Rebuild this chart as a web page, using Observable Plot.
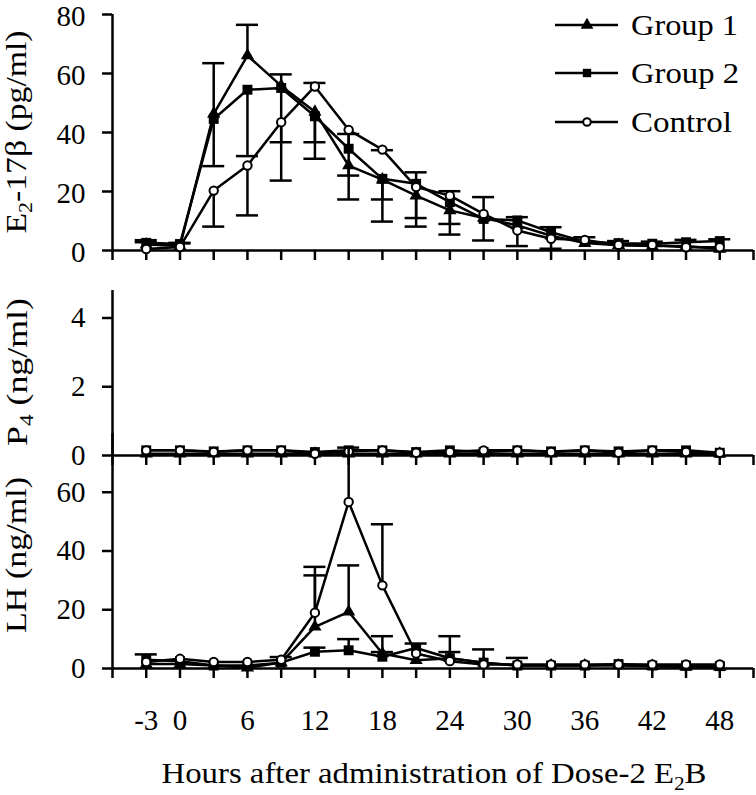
<!DOCTYPE html>
<html><head><meta charset="utf-8">
<script src="https://cdn.jsdelivr.net/npm/d3@7"></script>
<script src="https://cdn.jsdelivr.net/npm/@observablehq/plot@0.6"></script>
<style>
html,body{margin:0;padding:0;background:#fff;}
#chart{position:relative;width:756px;height:795px;font-family:"Liberation Serif","Times New Roman",serif;}
#chart svg{position:absolute;left:0;}
</style></head><body><div id="chart"></div>
<script>
// ---------- data ----------
const hours = [-3, 0, 3, 6, 9, 12, 15, 18, 21, 24, 27, 30, 33, 36, 39, 42, 45, 48];
const seriesNames = ["Group 1", "Group 2", "Control"];

// E2-17β (pg/ml)
const e2Group1 = [2.0, 1.5, 46.3, 66.1, 55.8, 47.0, 28.8, 24.0, 18.6, 13.6, 11.0, 8.5, 5.0, 2.5, 1.8, 1.5, 1.5, 0.5];
const e2Group2 = [2.6, 2.2, 44.6, 54.5, 55.1, 45.5, 34.5, 24.3, 22.6, 16.4, 10.7, 10.2, 6.2, 3.0, 2.5, 2.3, 2.8, 3.2];
const e2Control = [0.5, 1.2, 20.3, 28.8, 43.5, 55.6, 40.9, 34.2, 21.5, 18.6, 12.4, 6.8, 4.0, 3.6, 1.9, 1.9, 1.1, 1.1];
// error bar end points (null = not visible)
const e2Group1Err = [2.8, 2.4, 63.5, 76.5, 59.7, 36.7, 25.4, 9.8, 11.0, 9.0, 3.4, 1.5, 0.6, null, null, null, null, null];
const e2Group2Err = [3.5, 2.6, 28.6, 32.0, 36.7, 31.1, 39.5, 17.3, 26.5, 5.4, null, 11.3, 7.9, null, 3.2, 3.0, 3.6, 3.8];
const e2ControlErr = [null, null, 8.1, 11.9, 23.7, 56.8, 17.3, 34.0, 8.1, 20.1, 18.1, null, null, 4.5, null, null, null, null];

// P4 (ng/ml)
const p4Group1 = [0.05, 0.05, 0.05, 0.05, 0.05, 0.05, 0.05, 0.05, 0.05, 0.05, 0.05, 0.05, 0.05, 0.05, 0.05, 0.05, 0.05, 0.05];
const p4Group2 = [0.15, 0.15, 0.12, 0.15, 0.15, 0.10, 0.15, 0.15, 0.10, 0.15, 0.10, 0.15, 0.12, 0.15, 0.12, 0.15, 0.15, 0.08];
const p4Control = [0.15, 0.15, 0.10, 0.15, 0.15, 0.05, 0.12, 0.15, 0.08, 0.10, 0.15, 0.15, 0.10, 0.15, 0.08, 0.15, 0.10, 0.08];

// LH (ng/ml)
const lhGroup1 = [1.5, 1.5, 1.0, 0.3, 2.0, 14.2, 19.3, 5.1, 2.8, 3.5, 2.0, 1.0, 1.0, 1.0, 1.0, 0.8, 0.5, 0.5];
const lhGroup2 = [3.0, 2.5, 1.0, 1.0, 2.0, 5.7, 6.2, 4.0, 7.0, 3.5, 2.0, 1.0, 1.0, 1.0, 1.5, 1.0, 1.0, 0.8];
const lhControl = [2.2, 3.3, 2.2, 2.2, 3.0, 19.0, 56.7, 28.3, 5.1, 2.5, 1.4, 1.4, 1.4, 1.4, 1.4, 1.4, 1.4, 1.4];
const lhGroup1Err = [null, null, null, null, null, 31.7, 35.1, 11.0, null, 11.0, 6.5, 3.6, null, null, null, null, null, null];
const lhGroup2Err = [4.8, null, null, null, 3.9, 7.1, 10.0, 5.6, 8.5, 5.6, null, null, null, null, null, null, null, null];
const lhControlErr = [null, null, null, null, null, 34.6, 75.2, 49.1, null, null, null, null, null, null, null, null, null, null];

// axes
const xDomain = [-6, 51];
const xTicks = [-6, -3, 0, 3, 6, 9, 12, 15, 18, 21, 24, 27, 30, 33, 36, 39, 42, 45, 48, 51];
const xTickLabels = [-3, 0, 6, 12, 18, 24, 30, 36, 42, 48];
const e2Domain = [0, 80], e2Ticks = [0, 20, 40, 60, 80];
const p4Domain = [0, 4.8], p4Ticks = [0, 2, 4];
const lhDomain = [0, 80], lhTicks = [0, 20, 40, 60];

// ---------- build ----------
function table(vals, errs) {
  const out = [];
  vals.forEach((v, si) => v.forEach((y, i) => out.push({
    series: seriesNames[si], hour: hours[i], value: y, err: errs ? errs[si][i] : null
  })));
  return out;
}
const e2Data = table([e2Group1, e2Group2, e2Control], [e2Group1Err, e2Group2Err, e2ControlErr]);
const p4Data = table([p4Group1, p4Group2, p4Control], null);
const lhData = table([lhGroup1, lhGroup2, lhControl], [lhGroup1Err, lhGroup2Err, lhControlErr]);

const SW = 2.5, capHalf = 0.98;
const labelSet = new Set(xTickLabels);
const chart = document.getElementById("chart");

function panel({top, height, marginTop, marginBottom, yDomain, yTicks, data, showLabels, yLabelDy = 0}) {
  const withErr = data.filter(d => d.err != null);
  const svg = Plot.plot({
    width: 756, height, marginLeft: 112, marginRight: 3, marginTop, marginBottom,
    x: {domain: xDomain}, y: {domain: yDomain},
    style: {fontFamily: "Liberation Serif", fontSize: "29px", color: "black", background: "transparent", overflow: "visible"},
    marks: [
      // y tick marks
      Plot.axisY({ticks: yTicks, tickSize: 10, label: null, strokeWidth: SW, tickFormat: () => ""}),
      // y tick labels
      Plot.axisY({ticks: yTicks, tickSize: 0, tickPadding: 27, label: null, fontSize: 29, tickFormat: d => String(d), dy: yLabelDy}),
      Plot.axisX({ticks: xTicks, tickSize: 10, tickPadding: 31, label: null, strokeWidth: SW, fontSize: 29,
        tickFormat: d => (showLabels && labelSet.has(d)) ? String(d) : ""}),
      Plot.ruleX([xDomain[0]], {strokeWidth: SW}),
      Plot.ruleY([yDomain[0]], {strokeWidth: SW}),
      Plot.ruleX(withErr, {x: "hour", y1: "value", y2: "err", strokeWidth: SW}),
      Plot.ruleY(withErr, {y: "err", x1: d => d.hour - capHalf, x2: d => d.hour + capHalf, strokeWidth: SW}),
      Plot.line(data, {x: "hour", y: "value", z: "series", stroke: "black", strokeWidth: SW}),
      Plot.dot(data.filter(d => d.series === "Group 2"), {x: "hour", y: "value", symbol: "square", r: 5.6, fill: "black"}),
      Plot.dot(data.filter(d => d.series === "Group 1"), {x: "hour", y: "value", symbol: "triangle", r: 4.9, fill: "black"}),
      Plot.dot(data.filter(d => d.series === "Control"), {x: "hour", y: "value", symbol: "circle", r: 4.2, fill: "white", stroke: "black", strokeWidth: 2})
    ]
  });
  svg.style.top = top + "px";
  chart.appendChild(svg);
  return d3.select(svg);
}

function richText(sel, x, y, rotate, parts, size, length, anchor) {
  const t = sel.append("text")
    .attr("transform", `translate(${x},${y})` + (rotate ? ` rotate(${rotate})` : ""))
    .attr("text-anchor", anchor || "middle")
    .attr("font-family", "Liberation Serif").attr("font-size", size).attr("fill", "black");
  if (length) t.attr("textLength", length).attr("lengthAdjust", "spacingAndGlyphs");
  const shift = size * 0.22;
  parts.forEach(p => {
    const ts = t.append("tspan").text(p.t);
    if (p.sub) ts.attr("font-size", size * 0.65).attr("dy", shift);
    else if (p.after) ts.attr("dy", -shift);
  });
  return t;
}

const top1 = panel({top: 0, height: 270, marginTop: 14, marginBottom: 20, yDomain: e2Domain, yTicks: e2Ticks, data: e2Data, showLabels: false, yLabelDy: 2.5});
const mid = panel({top: 270, height: 200, marginTop: 20, marginBottom: 15, yDomain: p4Domain, yTicks: p4Ticks, data: p4Data, showLabels: false});
const bot = panel({top: 420, height: 375, marginTop: 13, marginBottom: 127, yDomain: lhDomain, yTicks: lhTicks, data: lhData, showLabels: true});

// axis titles
const TS = 29;
richText(top1, 26, 132, -90, [{t: "E"}, {t: "2", sub: true}, {t: "-17β (pg/ml)", after: true}], TS, 203);
richText(mid, 27, 102, -90, [{t: "P"}, {t: "4", sub: true}, {t: " (ng/ml)", after: true}], TS, 148);
richText(bot, 26, 135, -90, [{t: "LH (ng/ml)"}], TS, 156);
richText(bot, 434, 363, 0, [{t: "Hours after administration of Dose-2 E"}, {t: "2", sub: true}, {t: "B", after: true}], 30, 545);

// legend
const legendRows = [
  {name: seriesNames[0], sym: d3.symbolTriangle, size: 70, fill: "black", y: 25, len: 107},
  {name: seriesNames[1], sym: d3.symbolSquare, size: 70, fill: "black", y: 73, len: 108},
  {name: seriesNames[2], sym: d3.symbolCircle, size: 45, fill: "white", y: 122, len: 101}
];
const lg = top1.append("g");
legendRows.forEach(r => {
  lg.append("line").attr("x1", 555).attr("x2", 618).attr("y1", r.y).attr("y2", r.y).attr("stroke", "black").attr("stroke-width", SW);
  lg.append("path").attr("d", d3.symbol(r.sym, r.size)()).attr("transform", `translate(587,${r.y})`)
    .attr("fill", r.fill).attr("stroke", r.fill === "white" ? "black" : "none").attr("stroke-width", 2);
  lg.append("text").attr("x", 631).attr("y", r.y + 10).attr("text-anchor", "start")
    .attr("font-family", "Liberation Serif").attr("font-size", 30).attr("fill", "black")
    .attr("textLength", r.len).attr("lengthAdjust", "spacingAndGlyphs").text(r.name);
});
</script></body></html>
